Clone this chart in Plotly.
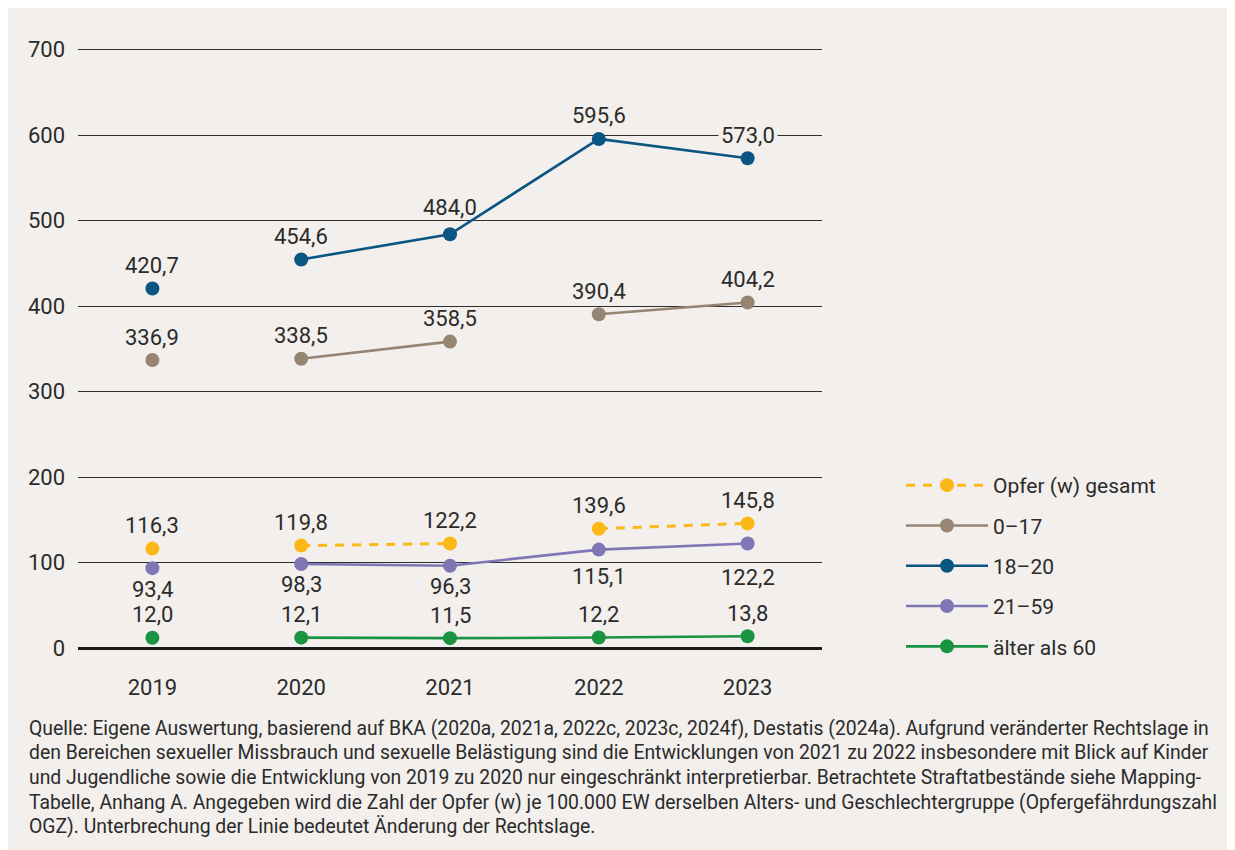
import plotly.graph_objects as go

years = [2019, 2020, 2021, 2022, 2023]
opfer_gesamt = [116.3, 119.8, 122.2, 139.6, 145.8]
age_0_17 = [336.9, 338.5, 358.5, 390.4, 404.2]
age_18_20 = [420.7, 454.6, 484.0, 595.6, 573.0]
age_21_59 = [93.4, 98.3, 96.3, 115.1, 122.2]
age_60plus = [12.0, 12.1, 11.5, 12.2, 13.8]

# indices after which the line is interrupted (change of legal situation)
breaks_gesamt = [0, 2]
breaks_0_17 = [0, 2]
breaks_18_20 = [0]
breaks_21_59 = [0]
breaks_60plus = [0]

y_ticks = [0, 100, 200, 300, 400, 500, 600, 700]

caption_lines = [
    "Quelle: Eigene Auswertung, basierend auf BKA (2020a, 2021a, 2022c, 2023c, 2024f), Destatis (2024a). Aufgrund veränderter Rechtslage in",
    "den Bereichen sexueller Missbrauch und sexuelle Belästigung sind die Entwicklungen von 2021 zu 2022 insbesondere mit Blick auf Kinder",
    "und Jugendliche sowie die Entwicklung von 2019 zu 2020 nur eingeschränkt interpretierbar. Betrachtete Straftatbestände siehe Mapping-",
    "Tabelle, Anhang A. Angegeben wird die Zahl der Opfer (w) je 100.000 EW derselben Alters- und Geschlechtergruppe (Opfergefährdungszahl",
    "OGZ). Unterbrechung der Linie bedeutet Änderung der Rechtslage.",
]

BG = "#f2efec"
TXT = "#2b2b2b"
FONT = "Roboto"

# label nudges (px) per series, per point
no_nudge = [0, 0, 0, 0, 0]
nudge_18_20 = [0, 0, 4, 0, 0]
nudge_21_59 = [0, 0, 0, -6, -13]

series = [
    ("Opfer (w) gesamt", opfer_gesamt, breaks_gesamt, "#fbb817", "dash", "above", no_nudge),
    ("0–17", age_0_17, breaks_0_17, "#978573", "solid", "above", no_nudge),
    ("18–20", age_18_20, breaks_18_20, "#0b5582", "solid", "above", nudge_18_20),
    ("21–59", age_21_59, breaks_21_59, "#7f77b5", "solid", "below", nudge_21_59),
    ("älter als 60", age_60plus, breaks_60plus, "#1a9443", "solid", "above", no_nudge),
]

W, H = 1226, 842
L, R, T, B = 70, 412, 40, 202
plot_w = W - L - R
plot_h = H - T - B
Y_MAX = 702
px_per_unit = plot_h / Y_MAX


def with_gaps(xs, ys, breaks):
    ox, oy = [], []
    for i, (x, y) in enumerate(zip(xs, ys)):
        ox.append(x)
        oy.append(y)
        if i in breaks:
            ox.append(None)
            oy.append(None)
    return ox, oy


def fmt(v):
    return f"{v:.1f}".replace(".", ",")


fig = go.Figure()
annotations = []
for name, vals, brk, color, dash, pos, nudge in series:
    gx, gy = with_gaps(years, vals, brk)
    fig.add_trace(go.Scatter(
        x=gx, y=gy, name=name, mode="lines+markers", legendgroup=name,
        line=dict(color=color, width=3 if dash == "dash" else 2.6,
                  dash="9px,8px" if dash == "dash" else "solid"),
        marker=dict(color=color, size=14),
        connectgaps=False, hoverinfo="skip",
    ))
    for i, (x, v) in enumerate(zip(years, vals)):
        ys = (23 if pos == "above" else -21) + nudge[i]
        label_px = v * px_per_unit + ys
        near_grid = min(abs(label_px - t * px_per_unit) for t in y_ticks) < 6
        annotations.append(dict(
            x=x, y=v, xref="x", yref="y", text=fmt(v), showarrow=False,
            yshift=ys, font=dict(family=FONT, size=22, color=TXT),
            bgcolor=BG if near_grid else None, borderpad=2,
        ))

# caption lines
for k, line in enumerate(caption_lines):
    py = 720 + k * 24.7
    annotations.append(dict(
        x=(19 - L) / plot_w, y=(H - B - py) / plot_h,
        xref="paper", yref="paper", xanchor="left", yanchor="middle",
        text=line, showarrow=False, align="left",
        font=dict(family=FONT, size=19.35, color=TXT),
    ))

fig.update_layout(
    width=W, height=H,
    margin=dict(l=L, r=R, t=T, b=B),
    paper_bgcolor=BG, plot_bgcolor=BG,
    font=dict(family=FONT, color=TXT),
    annotations=annotations,
    showlegend=True,
    legend=dict(
        x=(901 - 8 - L) / plot_w, xanchor="left", y=(H - B - 457) / plot_h, yanchor="top",
        font=dict(family=FONT, size=21, color=TXT),
        bgcolor="rgba(0,0,0,0)", tracegroupgap=10, traceorder="grouped",
        itemwidth=82,
    ),
    xaxis=dict(
        range=[2018.5, 2023.5], tickvals=years, ticktext=[str(y) for y in years],
        showgrid=False, zeroline=False, showline=False, ticks="",
        tickfont=dict(family=FONT, size=22, color=TXT), ticklabelstandoff=24,
        fixedrange=True,
    ),
    yaxis=dict(
        range=[0, Y_MAX], tickvals=y_ticks, showgrid=True, gridcolor="#2e2e2e", gridwidth=1.3,
        zeroline=True, zerolinecolor="#1a1a1a", zerolinewidth=3.2, showline=False, ticks="",
        tickfont=dict(family=FONT, size=22, color=TXT), ticklabelstandoff=12,
        fixedrange=True,
    ),
)

fig.write_html("out.html")
